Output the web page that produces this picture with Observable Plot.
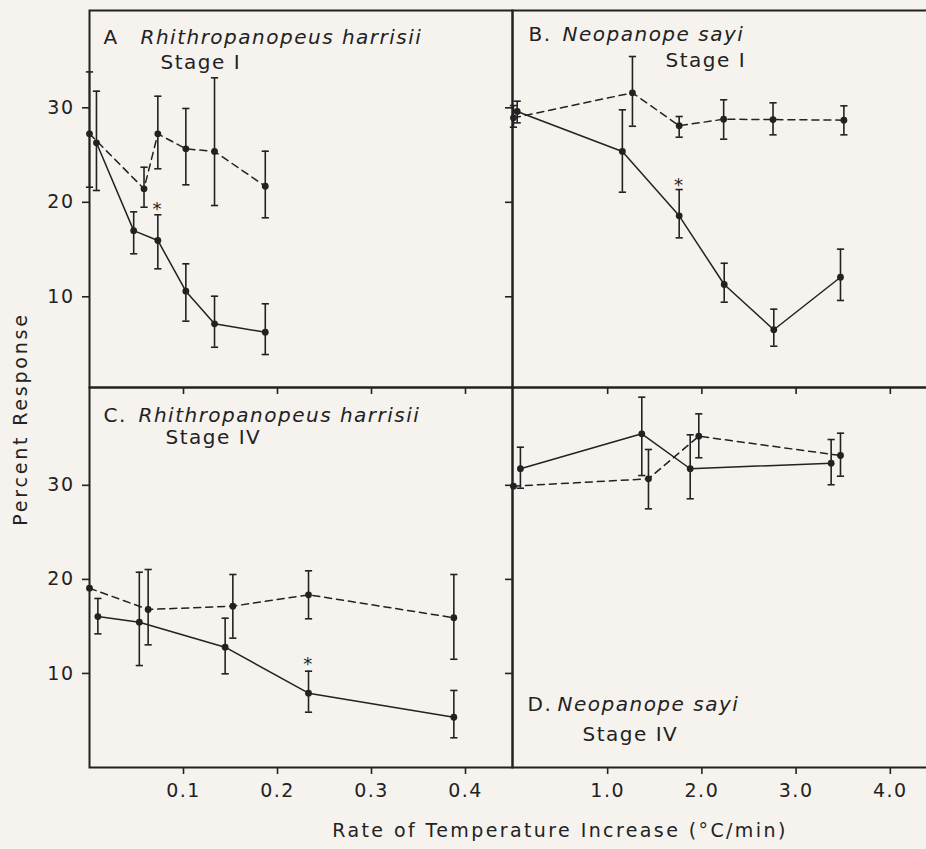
<!DOCTYPE html>
<html>
<head>
<meta charset="utf-8">
<script src="https://cdn.jsdelivr.net/npm/d3@7"></script>
<script src="https://cdn.jsdelivr.net/npm/@observablehq/plot@0.6"></script>
<style>
  html, body { margin: 0; padding: 0; background: #f6f2ee; }
  #fig { position: relative; width: 926px; height: 849px; overflow: hidden; background: #f6f2ee;
         font-family: "DejaVu Sans", sans-serif; color: #222; }
  .panel { position: absolute; }
  .xtitle { position: absolute; left: 260px; width: 600px; top: 820px; text-align: center;
            font-size: 19px; letter-spacing: 2.4px; line-height: 20px; }
  .ytitle { position: absolute; left: -130px; width: 300px; top: 409px; text-align: center;
            font-size: 19px; letter-spacing: 2.8px; line-height: 20px; transform: rotate(-90deg); }
  g[aria-label$="tick"] path { stroke-width: 1.6px; }
</style>
</head>
<body>
<div id="fig"></div>
<script>
// ---------- data ----------
const panelLetters = ["A", "B.", "C.", "D."];
const speciesNames = ["Rhithropanopeus harrisii", "Neopanope sayi", "Rhithropanopeus harrisii", "Neopanope sayi"];
const stageLabels = ["Stage I", "Stage I", "Stage IV", "Stage IV"];
const xTitle = "Rate of Temperature Increase (°C/min)";
const yTitle = "Percent Response";
const xTicksLeft = [0.1, 0.2, 0.3, 0.4];
const xTicksRight = [1, 2, 3, 4];
const yTicks = [10, 20, 30];

const panelA_solid = [
  {rate: 0.0074, pct: 26.3, lo: 21.25, hi: 31.76},
  {rate: 0.047, pct: 17.0, lo: 14.55, hi: 18.99},
  {rate: 0.0727, pct: 15.96, lo: 12.96, hi: 18.68},
  {rate: 0.1025, pct: 10.59, lo: 7.42, hi: 13.49},
  {rate: 0.133, pct: 7.14, lo: 4.66, hi: 10.06},
  {rate: 0.187, pct: 6.25, lo: 3.89, hi: 9.26}
];
const panelA_dashed = [
  {rate: 0, pct: 27.25, lo: 21.6, hi: 33.8},
  {rate: 0.058, pct: 21.43, lo: 19.48, hi: 23.71},
  {rate: 0.0727, pct: 27.25, lo: 23.55, hi: 31.23},
  {rate: 0.1025, pct: 25.66, lo: 21.85, hi: 29.93},
  {rate: 0.133, pct: 25.38, lo: 19.66, hi: 33.18},
  {rate: 0.187, pct: 21.7, lo: 18.36, hi: 25.41}
];
const panelA_stars = [{rate: 0.0727, pct: 19.77, mark: "*"}];

const panelB_solid = [
  {rate: 0.04, pct: 29.61, lo: 28.41, hi: 30.7},
  {rate: 1.156, pct: 25.38, lo: 21.07, hi: 29.79},
  {rate: 1.759, pct: 18.57, lo: 16.24, hi: 21.35},
  {rate: 2.237, pct: 11.3, lo: 9.43, hi: 13.55},
  {rate: 2.763, pct: 6.51, lo: 4.77, hi: 8.69},
  {rate: 3.471, pct: 12.07, lo: 9.61, hi: 15.04}
];
const panelB_dashed = [
  {rate: 0, pct: 28.94, lo: 27.95, hi: 30.24},
  {rate: 1.263, pct: 31.59, lo: 28.05, hi: 35.43},
  {rate: 1.759, pct: 28.1, lo: 26.89, hi: 29.08},
  {rate: 2.231, pct: 28.79, lo: 26.68, hi: 30.85},
  {rate: 2.755, pct: 28.76, lo: 27.14, hi: 30.53},
  {rate: 3.507, pct: 28.69, lo: 27.14, hi: 30.21}
];
const panelB_stars = [{rate: 1.759, pct: 22.38, mark: "*"}];

const panelC_solid = [
  {rate: 0.0089, pct: 16.05, lo: 14.21, hi: 17.97},
  {rate: 0.053, pct: 15.45, lo: 10.84, hi: 20.76},
  {rate: 0.1443, pct: 12.79, lo: 9.96, hi: 15.87},
  {rate: 0.233, pct: 7.9, lo: 5.88, hi: 10.24},
  {rate: 0.3876, pct: 5.34, lo: 3.16, hi: 8.19}
];
const panelC_dashed = [
  {rate: 0, pct: 19.06, lo: null, hi: null},
  {rate: 0.0624, pct: 16.8, lo: 13.04, hi: 21.05},
  {rate: 0.1525, pct: 17.15, lo: 13.75, hi: 20.52},
  {rate: 0.233, pct: 18.36, lo: 15.81, hi: 20.91},
  {rate: 0.3876, pct: 15.92, lo: 11.51, hi: 20.52}
];
const panelC_stars = [{rate: 0.233, pct: 11.56, mark: "*"}];

const panelD_solid = [
  {rate: 0.074, pct: 31.76, lo: 29.69, hi: 34.05},
  {rate: 1.362, pct: 35.48, lo: 31.04, hi: 39.37},
  {rate: 1.876, pct: 31.76, lo: 28.57, hi: 35.37},
  {rate: 3.372, pct: 32.35, lo: 30.06, hi: 34.87}
];
const panelD_dashed = [
  {rate: 0, pct: 29.91, lo: null, hi: null},
  {rate: 1.433, pct: 30.69, lo: 27.5, hi: 33.81},
  {rate: 1.967, pct: 35.22, lo: 32.93, hi: 37.6},
  {rate: 3.471, pct: 33.17, lo: 30.97, hi: 35.54}
];
const panelD_stars = [];

// ---------- drawing ----------
const ink = "#222";
const cap = {draw(ctx, size) { const w = Math.sqrt(size / Math.PI); ctx.moveTo(-w, 0); ctx.lineTo(w, 0); }};
const fig = document.getElementById("fig");

function seriesMarks(s, dashed) {
  return [
    Plot.line(s, {x: "rate", y: "pct", stroke: ink, strokeWidth: 1.5, strokeDasharray: dashed ? "7,5" : null}),
    Plot.ruleX(s, {x: "rate", y1: "lo", y2: "hi", stroke: ink, strokeWidth: 1.6}),
    Plot.dot(s, {x: "rate", y: "lo", symbol: cap, r: 3.6, stroke: ink, strokeWidth: 1.6, fill: "none"}),
    Plot.dot(s, {x: "rate", y: "hi", symbol: cap, r: 3.6, stroke: ink, strokeWidth: 1.6, fill: "none"}),
    Plot.dot(s, {x: "rate", y: "pct", r: 3.4, fill: ink, stroke: "none"})
  ];
}

function panel(cfg) {
  const t = cfg.idx;
  const chart = Plot.plot({
    width: cfg.width, height: cfg.height,
    marginTop: 10, marginRight: 0, marginBottom: cfg.marginBottom, marginLeft: cfg.marginLeft,
    style: {background: "transparent", overflow: "visible", fontFamily: "DejaVu Sans", fontSize: "19px", color: ink, letterSpacing: "1.5px"},
    x: {domain: cfg.xDomain, ticks: cfg.xTicks, tickFormat: cfg.xLabels ? d3.format(".1f") : () => "", tickSize: 7, tickPadding: 9, label: null},
    y: {domain: cfg.yDomain, ticks: yTicks, tickFormat: cfg.yLabels ? d3.format("d") : () => "", tickSize: 7, tickPadding: 8, label: null},
    marks: [
      Plot.frame({stroke: ink, strokeWidth: 2}),
      ...seriesMarks(cfg.dashed, true),
      ...seriesMarks(cfg.solid, false),
      Plot.text(cfg.stars, {x: "rate", y: "pct", text: "mark", fontSize: 18, dy: 5, fill: ink}),
      Plot.text([panelLetters[t]], {text: d => d, frameAnchor: "top-left", dx: cfg.tx[0], dy: cfg.ty[0], lineAnchor: "bottom", textAnchor: "start", fontSize: 20, fill: ink}),
      Plot.text([speciesNames[t]], {text: d => d, frameAnchor: "top-left", dx: cfg.tx[1], dy: cfg.ty[0], lineAnchor: "bottom", textAnchor: "start", fontSize: 20, fontStyle: "italic", fill: ink}),
      Plot.text([stageLabels[t]], {text: d => d, frameAnchor: "top-left", dx: cfg.tx[2], dy: cfg.ty[1], lineAnchor: "bottom", textAnchor: "start", fontSize: 20, fill: ink})
    ]
  });
  chart.classList.add("panel");
  chart.style.left = cfg.left + "px";
  chart.style.top = cfg.top + "px";
  fig.appendChild(chart);
}

panel({idx: 0, solid: panelA_solid, dashed: panelA_dashed, stars: panelA_stars,
  left: 0, top: 0, width: 512, height: 400, marginLeft: 89, marginBottom: 13,
  xDomain: [0, 0.45], xTicks: xTicksLeft, xLabels: false, yDomain: [0.4, 40.3], yLabels: true,
  tx: [14, 51, 71], ty: [33, 58]});
panel({idx: 1, solid: panelB_solid, dashed: panelB_dashed, stars: panelB_stars,
  left: 502, top: 0, width: 434, height: 400, marginLeft: 10, marginBottom: 13,
  xDomain: [-0.01, 4.49], xTicks: xTicksRight, xLabels: false, yDomain: [0.4, 40.3], yLabels: false,
  tx: [16, 50, 153], ty: [30, 56]});
panel({idx: 2, solid: panelC_solid, dashed: panelC_dashed, stars: panelC_stars,
  left: 0, top: 377, width: 512, height: 472, marginLeft: 89, marginBottom: 82,
  xDomain: [0, 0.45], xTicks: xTicksLeft, xLabels: true, yDomain: [0, 40.4], yLabels: true,
  tx: [14, 49, 76], ty: [34, 56]});
panel({idx: 3, solid: panelD_solid, dashed: panelD_dashed, stars: panelD_stars,
  left: 502, top: 377, width: 434, height: 472, marginLeft: 10, marginBottom: 82,
  xDomain: [-0.01, 4.49], xTicks: xTicksRight, xLabels: true, yDomain: [0, 40.4], yLabels: false,
  tx: [15, 45, 70], ty: [323, 353]});

const xt = document.createElement("div");
xt.className = "xtitle"; xt.textContent = xTitle; fig.appendChild(xt);
const yt = document.createElement("div");
yt.className = "ytitle"; yt.textContent = yTitle; fig.appendChild(yt);
</script>
</body>
</html>
